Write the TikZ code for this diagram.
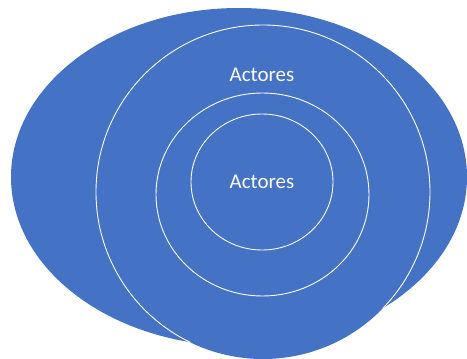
\documentclass[tikz,border=0pt]{standalone}
\usepackage{fontspec}
\setmainfont{Carlito}
\usepackage{tikz}
\usetikzlibrary{shapes.geometric}
\usepackage{xcolor}
\definecolor{actorblue}{RGB}{68, 114, 196}

\begin{document}
\begin{tikzpicture}[x=1pt,y=-1pt]
            \useasboundingbox (0,0) rectangle (467,359);
            \fill[actorblue] (239,177) ellipse [x radius=228, y radius=169];
            \fill[actorblue] (263,192) circle [radius=167];
            
            \begin{scope}
                \clip (239,177) ellipse [x radius=228, y radius=169];
                \draw[white,line width=0.9pt] (263,192) circle [radius=167];
            \end{scope}
            
            \node[draw=white,line width=0.9pt,ellipse,inner sep=0pt,minimum width=213pt,minimum height=203pt] (middle) at (262.5,194.5) {};
            \node[draw=white,line width=0.9pt,ellipse,inner sep=0pt,minimum width=142pt,minimum height=136pt,text=white,font=\fontsize{21}{25}\selectfont] (inner) at (262,182) {Actores};
            
            \node[text=white,font=\fontsize{21}{25}\selectfont] (outerlabel) at (262,75) {Actores};
        \end{tikzpicture}
\end{document}
